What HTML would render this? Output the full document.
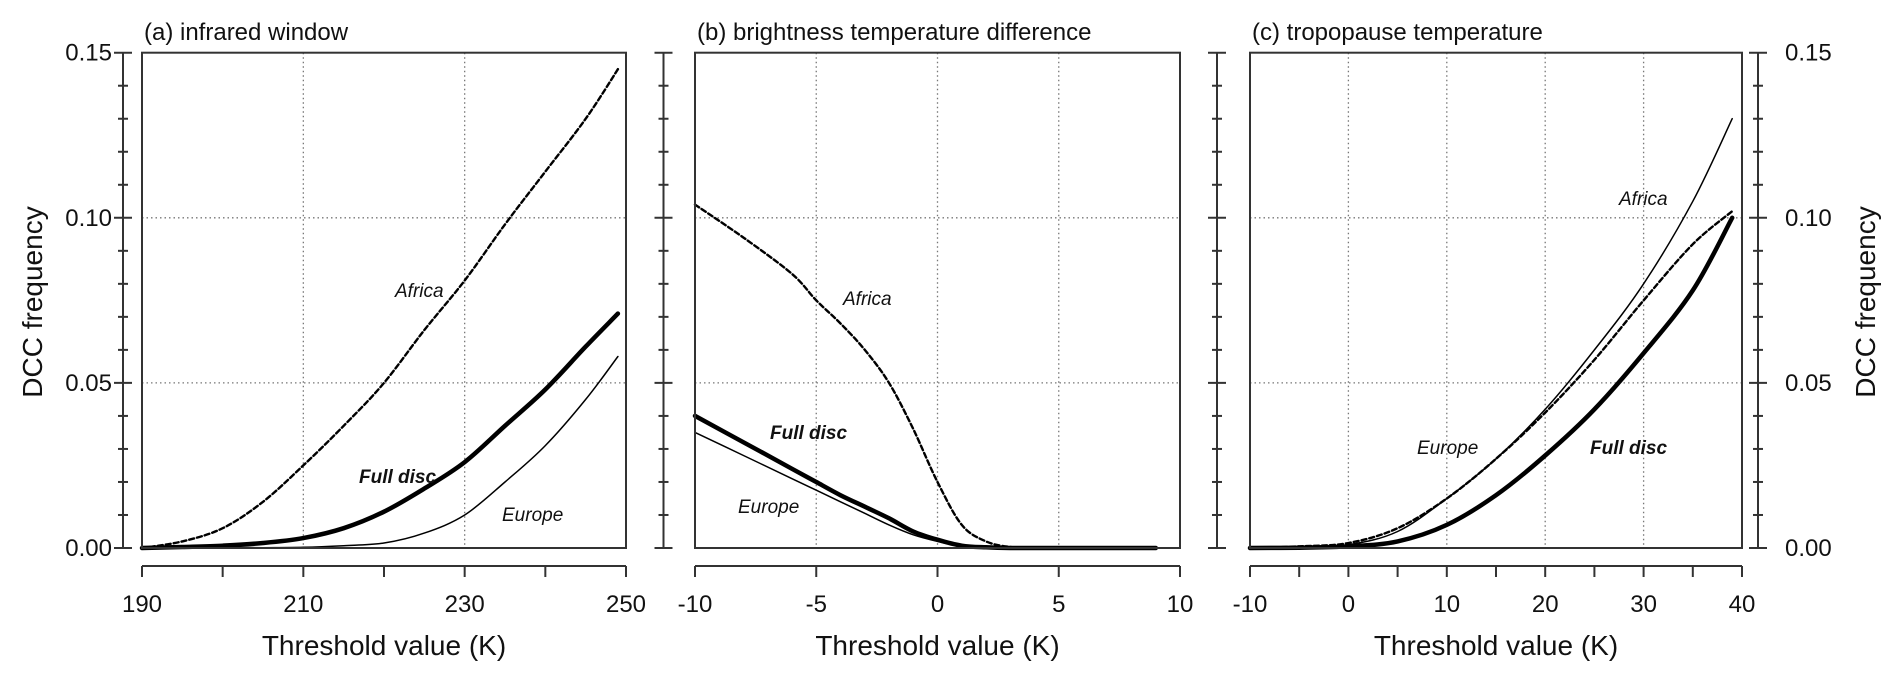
<!DOCTYPE html>
<html><head><meta charset="utf-8"><style>
body{margin:0;background:#fff;}
svg{display:block;font-family:"Liberation Sans",sans-serif;}
</style></head><body>
<svg id="chart" width="1892" height="678" viewBox="0 0 1892 678"></svg>
<script>
// ---- data ----
const aX = [190,195,200,205,210,215,220,225,230,235,240,245,249];
const aAfrica = [0,0.002,0.006,0.014,0.025,0.037,0.05,0.066,0.081,0.098,0.114,0.13,0.145];
const aFull = [0,0.0003,0.0007,0.0015,0.003,0.006,0.011,0.018,0.026,0.037,0.048,0.061,0.071];
const aEurope = [0,0,0.0001,0.0001,0.0002,0.0007,0.0015,0.0045,0.01,0.02,0.031,0.045,0.058];
const bX = [-10,-8,-6,-5,-4,-3,-2,-1,0,1,2,3,4,9];
const bAfrica = [0.104,0.094,0.083,0.075,0.068,0.06,0.05,0.036,0.02,0.007,0.002,0.0003,0,0];
const bFull = [0.04,0.032,0.024,0.02,0.016,0.0125,0.009,0.005,0.0025,0.0007,0.0002,0,0,0];
const bEurope = [0.035,0.028,0.021,0.0175,0.014,0.0105,0.007,0.004,0.002,0.0005,0.0001,0,0,0];
const cX = [-10,-5,0,5,10,15,20,25,30,35,39];
const cAfrica = [0,0.0003,0.001,0.005,0.015,0.027,0.042,0.06,0.08,0.105,0.13];
const cEurope = [0,0.0005,0.0015,0.006,0.015,0.027,0.041,0.057,0.075,0.092,0.102];
const cFull = [0,0.0001,0.0005,0.002,0.007,0.016,0.028,0.042,0.059,0.078,0.1];
const yTicks = [0,0.05,0.10,0.15];
const yTickLabels = ["0.00","0.05","0.10","0.15"];
const aXTicks = [190,200,210,220,230,240,250];
const aXLabels = [190,210,230,250];
const bXTicks = [-10,-5,0,5,10];
const bXLabels = [-10,-5,0,5,10];
const cXTicks = [-10,-5,0,5,10,15,20,25,30,35,40];
const cXLabels = [-10,0,10,20,30,40];

const NS="http://www.w3.org/2000/svg";
const svg=document.getElementById('chart');
function mk(tag,attrs,parent){const e=document.createElementNS(NS,tag);for(const k in attrs)e.setAttribute(k,attrs[k]);(parent||svg).appendChild(e);return e;}
const TOP=52.7,BOT=548,YMAX=0.15,AXY=566;
function yS(v){return BOT-(v/YMAX)*(BOT-TOP);}

function smooth(pts){
  let d='M'+pts[0][0].toFixed(1)+','+pts[0][1].toFixed(1);
  for(let i=0;i<pts.length-1;i++){
    const p0=pts[Math.max(0,i-1)],p1=pts[i],p2=pts[i+1],p3=pts[Math.min(pts.length-1,i+2)];
    const c1x=p1[0]+(p2[0]-p0[0])/6,c1y=p1[1]+(p2[1]-p0[1])/6;
    const c2x=p2[0]-(p3[0]-p1[0])/6,c2y=p2[1]-(p3[1]-p1[1])/6;
    d+=' C'+c1x.toFixed(1)+','+Math.min(BOT,c1y).toFixed(1)+' '+c2x.toFixed(1)+','+Math.min(BOT,c2y).toFixed(1)+' '+p2[0].toFixed(1)+','+p2[1].toFixed(1);
  }
  return d;
}

function yAxis(x,labels,side){
  const g=mk('g',{});
  
  
  mk('line',{x1:x,x2:x,y1:TOP,y2:BOT,stroke:'#333','stroke-width':2},g);
  for(let i=0;i<=15;i++){
    const v=i*0.01,y=yS(v),maj=i%5===0;
    mk('line',{x1:x-(maj?9:5),x2:x+(maj?9:5),y1:y,y2:y,stroke:'#333','stroke-width':2},g);
  }
  if(labels){
    yTicks.forEach((v,i)=>{
      const t=mk('text',{x:side==='left'?x-11:x+27,y:yS(v)+8,'font-size':24,'text-anchor':side==='left'?'end':'start',fill:'#111'},g);
      
      
      t.textContent=yTickLabels[i];
    });
  }
}

function panel(id,L,R,xmin,xmax,ticks,labels,grids,series,title,notes){
  const g=mk('g',{});
  
  
  const xS=v=>L+(v-xmin)/(xmax-xmin)*(R-L);
  grids.forEach(v=>mk('line',{x1:xS(v),x2:xS(v),y1:TOP,y2:BOT,stroke:'#777','stroke-width':1.3,'stroke-dasharray':'1.5,3'},g));
  [0.05,0.10].forEach(v=>mk('line',{x1:L,x2:R,y1:yS(v),y2:yS(v),stroke:'#777','stroke-width':1.3,'stroke-dasharray':'1.5,3'},g));
  series.forEach(s=>{
    const pts=s.xs.map((x,i)=>[xS(x),yS(s.ys[i])]);
    const p=mk('path',{d:smooth(pts),fill:'none',stroke:'#000','stroke-width':s.w,'stroke-linejoin':'round','stroke-linecap':'round'},g);
    if(s.dash)p.setAttribute('stroke-dasharray',s.dash);
    
    
  });
  mk('rect',{x:L,y:TOP,width:R-L,height:BOT-TOP,fill:'none',stroke:'#333','stroke-width':2},g);
  const ax=mk('g',{},g);
  
  
  mk('line',{x1:L,x2:R,y1:AXY,y2:AXY,stroke:'#333','stroke-width':2},ax);
  ticks.forEach(v=>mk('line',{x1:xS(v),x2:xS(v),y1:AXY,y2:AXY+11,stroke:'#333','stroke-width':2},ax));
  labels.forEach(v=>{
    const t=mk('text',{x:xS(v),y:612,'font-size':24,'text-anchor':'middle',fill:'#111'},ax);
    
    
    t.textContent=v;
  });
  const xt=mk('text',{x:(L+R)/2,y:655,'font-size':28,'text-anchor':'middle',fill:'#111'},g);
  
  
  xt.textContent='Threshold value (K)';
  const tt=mk('text',{x:L+2,y:40,'font-size':24,fill:'#111'},g);
  
  
  tt.textContent=title;
  notes.forEach(n=>{
    const t=mk('text',{x:n[1],y:n[2],'font-size':19,'font-style':'italic','font-weight':n[3]?'bold':'normal',fill:'#111'},g);
    
    
    t.textContent=n[0];
  });
}

yAxis(123,true,'left');
yAxis(663.5,false);
yAxis(1217,false);
yAxis(1758,true,'right');

panel('a',142,626,190,250,aXTicks,aXLabels,[210,230],[
 {xs:aX,ys:aAfrica,w:2.4,dash:'5,3',name:'africa-line'},
 {xs:aX,ys:aFull,w:4.5,name:'full-disc-line'},
 {xs:aX,ys:aEurope,w:1.5,name:'europe-line'}],
 '(a) infrared window',[['Africa',395,297],['Full disc',359,483,true],['Europe',502,521]]);
panel('b',695,1180,-10,10,bXTicks,bXLabels,[-5,0,5],[
 {xs:bX,ys:bAfrica,w:2.4,dash:'5,3',name:'africa-line'},
 {xs:bX,ys:bFull,w:4.5,name:'full-disc-line'},
 {xs:bX,ys:bEurope,w:1.5,name:'europe-line'}],
 '(b) brightness temperature difference',[['Africa',843,305],['Full disc',770,439,true],['Europe',738,513]]);
panel('c',1250,1742,-10,40,cXTicks,cXLabels,[0,10,20,30],[
 {xs:cX,ys:cAfrica,w:1.5,name:'africa-line'},
 {xs:cX,ys:cEurope,w:2.4,dash:'5,3',name:'europe-line'},
 {xs:cX,ys:cFull,w:4.5,name:'full-disc-line'}],
 '(c) tropopause temperature',[['Africa',1619,205],['Europe',1417,454],['Full disc',1590,454,true]]);

const yl=mk('text',{x:0,y:0,'font-size':28,'text-anchor':'middle',fill:'#111',transform:'translate(42,302) rotate(-90)'});


yl.textContent='DCC frequency';
const yr=mk('text',{x:0,y:0,'font-size':28,'text-anchor':'middle',fill:'#111',transform:'translate(1875,302) rotate(-90)'});


yr.textContent='DCC frequency';
</script>
</body></html>
